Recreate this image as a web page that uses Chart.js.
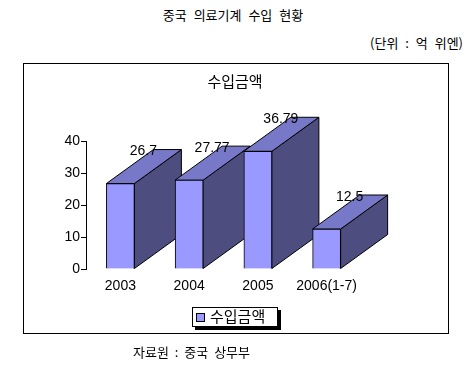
<!DOCTYPE html>
<html>
<head>
<meta charset="utf-8">
<script src="https://cdn.jsdelivr.net/npm/chart.js@4"></script>
<style>
  body { margin: 0; background: #fff; font-family: "Noto Sans CJK KR", sans-serif; }
  .txt { position: absolute; white-space: nowrap; color: #000; }
  #box { position: absolute; left: 23px; top: 63px; width: 426px; height: 271px; box-sizing: border-box; border: 1px solid #000; }
  #c { position: absolute; left: 23px; top: 63px; }
  #legend { position: absolute; left: 192px; top: 307px; width: 84px; height: 18px; border: 1px solid #000; background: #fff; box-shadow: 3px 3px 0 #000; font-size: 15px; line-height: 18px; }
  #legend span.sw { position: absolute; left: 3px; top: 5px; width: 7px; height: 7px; background: #9999ff; border: 1px solid #000; }
  #legend span.lb { position: absolute; left: 17px; top: -1px; }
</style>
</head>
<body>
<div class="txt" style="left:0;width:466px;text-align:center;top:5px;font-size:13px;word-spacing:4px;">중국 의료기계 수입 현황</div>
<div class="txt" style="right:10px;top:33px;font-size:13px;word-spacing:4px;">(단위 : 억 위엔)</div>
<div id="box"></div>
<canvas id="c" width="425" height="270"></canvas>
<div class="txt" style="left:23px;width:424px;text-align:center;top:70px;font-size:15px;">수입금액</div>
<div id="legend"><span class="sw"></span><span class="lb">수입금액</span></div>
<div class="txt" style="left:133px;top:342px;font-size:13px;word-spacing:3px;">자료원 : 중국 상무부</div>
<script>
// data
const years = ['2003', '2004', '2005', '2006(1-7)'];
const importAmount = [26.7, 27.77, 36.79, 12.5];
const yTicks = [0, 10, 20, 30, 40];

const DX = 47, DY = 34;

const box3d = {
  id: 'box3d',
  beforeDatasetsDraw(chart) {
    const ctx = chart.ctx;
    const meta = chart.getDatasetMeta(0);
    ctx.save();
    ctx.lineWidth = 1;
    ctx.strokeStyle = '#000';
    meta.data.forEach(bar => {
      const p = bar.getProps(['x', 'y', 'base', 'width'], true);
      const l = p.x - p.width / 2, r = p.x + p.width / 2;
      // side face
      ctx.beginPath();
      ctx.moveTo(r, p.y);
      ctx.lineTo(r + DX, p.y - DY);
      ctx.lineTo(r + DX, p.base - DY);
      ctx.lineTo(r, p.base);
      ctx.closePath();
      ctx.fillStyle = '#4d4d80';
      ctx.fill();
      ctx.stroke();
      // top face
      ctx.beginPath();
      ctx.moveTo(l, p.y);
      ctx.lineTo(l + DX, p.y - DY);
      ctx.lineTo(r + DX, p.y - DY);
      ctx.lineTo(r, p.y);
      ctx.closePath();
      ctx.fillStyle = '#7878c8';
      ctx.fill();
      ctx.stroke();
    });
    ctx.restore();
  },
  afterDatasetsDraw(chart) {
    const ctx = chart.ctx;
    const meta = chart.getDatasetMeta(0);
    ctx.save();
    ctx.font = '14px "Liberation Sans", Arial, sans-serif';
    ctx.fillStyle = '#000';
    ctx.textAlign = 'center';
    ctx.textBaseline = 'middle';
    meta.data.forEach((bar, i) => {
      const p = bar.getProps(['x', 'y'], true);
      ctx.fillText(String(importAmount[i]), p.x + 23, p.y - DY + 2);
    });
    ctx.restore();
  }
};

new Chart(document.getElementById('c'), {
  type: 'bar',
  data: {
    labels: years,
    datasets: [{
      label: '수입금액',
      data: importAmount,
      backgroundColor: '#9999ff',
      borderColor: '#000',
      borderWidth: 1,
      barThickness: 28
    }]
  },
  options: {
    responsive: false,
    animation: false,
    layout: { padding: { left: 23, right: 87, top: 78, bottom: 34 } },
    plugins: { legend: { display: false }, title: { display: false }, tooltip: { enabled: false } },
    scales: {
      x: {
        grid: { display: false, drawTicks: false },
        border: { display: false },
        ticks: { color: '#000', font: { family: '"Liberation Sans", Arial, sans-serif', size: 14 }, padding: 9, maxRotation: 0 },
        afterFit(s) { s.height = 30; }
      },
      y: {
        min: 0, max: 40,
        afterBuildTicks(s) { s.ticks = yTicks.map(v => ({ value: v })); },
        grid: { drawOnChartArea: false, drawTicks: true, tickLength: 5, color: '#000' },
        border: { display: true, color: '#000' },
        ticks: { color: '#000', font: { family: '"Liberation Sans", Arial, sans-serif', size: 14 }, padding: 1 },
        afterFit(s) { s.width = 40; }
      }
    }
  },
  plugins: [box3d]
});
</script>
</body>
</html>
